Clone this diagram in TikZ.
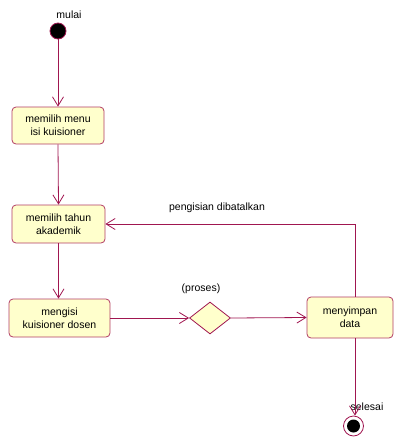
\documentclass[tikz,border=0pt]{standalone}
\usepackage{fontspec}
\setmainfont{Liberation Sans}
\usetikzlibrary{arrows.meta,shapes.geometric}
\definecolor{flowline}{RGB}{160,22,80}
\definecolor{boxedge}{RGB}{178,60,100}
\definecolor{boxfill}{RGB}{255,255,204}
\tikzset{
  activity/.style={draw=boxedge, fill=boxfill, rounded corners=4pt, line width=0.8pt,
    align=center, inner sep=1pt, font=\fontsize{10.5}{13}\selectfont},
  decision/.style={diamond, draw=flowline, fill=boxfill, line width=0.8pt,
    minimum width=41pt, minimum height=32pt, inner sep=0pt},
  flow/.style={draw=flowline, line width=0.8pt,
    -{Straight Barb[length=9pt,width=11pt,line width=0.8pt]}},
  caption/.style={font=\fontsize{10.5}{13}\selectfont, inner sep=0pt}
}
\begin{document}
\begin{tikzpicture}[x=1pt,y=-1pt]
\useasboundingbox (0,0) rectangle (395,437);

% start and end states
\node[circle, draw=flowline, fill=black, line width=0.8pt, minimum size=16pt, inner sep=0pt] (start) at (58,31) {};
\node[caption] (startlbl) at (69,15) {mulai};

\node[circle, draw=flowline, line width=0.8pt, minimum size=20pt, inner sep=0pt] (stop) at (353.5,426) {};
\node[circle, fill=black, minimum size=13pt, inner sep=0pt] (stopdot) at (stop.center) {};
\node[caption] (stoplbl) at (367,407) {selesai};

% activities
\node[activity, minimum width=92pt, minimum height=37pt] (menu) at (58,125.5) {memilih menu\\isi kuisioner};
\node[activity, minimum width=93pt, minimum height=38pt] (tahun) at (58.5,224) {memilih tahun\\akademik};
\node[activity, minimum width=101pt, minimum height=38pt] (isi) at (59.5,318) {mengisi\\kuisioner dosen};
\node[activity, minimum width=86pt, minimum height=41pt] (simpan) at (350,317.5) {menyimpan\\data};

\node[decision] (proses) at (210,318) {};
\node[caption] (proseslbl) at (201,289) {(proses)};
\node[caption] (batallbl) at (217,208) {pengisian dibatalkan};

% transitions
\draw[flow] (start) -- (menu.north);
\draw[flow] (menu.south) -- (tahun.north);
\draw[flow] (tahun.south) -- (tahun.south |- isi.north);
\draw[flow] (isi.east) -- (proses.west);
\draw[flow] (proses.east) -- (simpan.west);
\draw[flow] ([xshift=5pt]simpan.north) |- (tahun.east);
\draw[flow] ([xshift=5pt]simpan.south) -- ([xshift=5pt]simpan.south |- stop.north);
\end{tikzpicture}
\end{document}
